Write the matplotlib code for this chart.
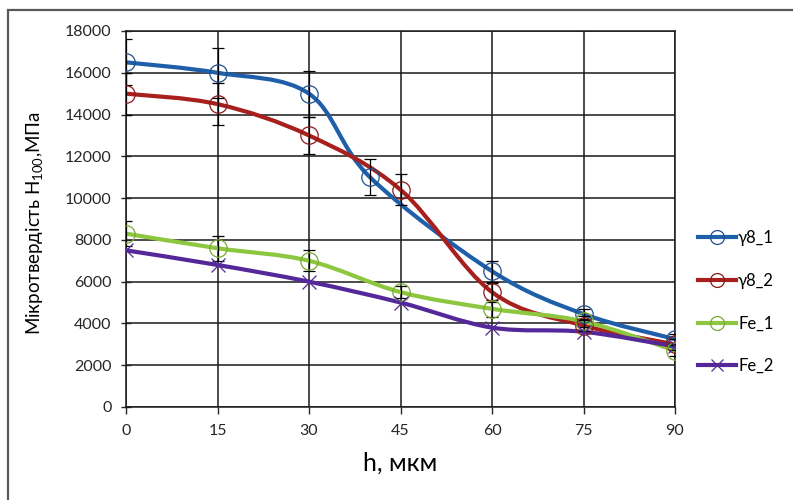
import matplotlib
matplotlib.use("Agg")
import numpy as np
import matplotlib.pyplot as plt
from matplotlib.path import Path
from matplotlib.patches import PathPatch, Rectangle
from matplotlib.lines import Line2D

plt.rcParams['font.family'] = ['Lato', 'DejaVu Sans']
plt.rcParams['mathtext.default'] = 'regular'

# дані
h_y8_1 = [0, 15, 30, 40, 60, 75, 90]
hv_y8_1 = [16500, 16000, 15000, 11000, 6500, 4450, 3250]
err_y8_1 = [1100, 1200, 1100, 850, 500, 250, 250]

h_y8_2 = [0, 15, 30, 45, 60, 75, 90]
hv_y8_2 = [15000, 14500, 13000, 10400, 5500, 3900, 3000]
err_y8_2 = [1000, 1000, 900, 750, 450, 250, 250]

h_fe_1 = [0, 15, 30, 45, 60, 75, 90]
hv_fe_1 = [8300, 7600, 7000, 5500, 4700, 4100, 2700]
err_fe_1 = [600, 600, 500, 300, 400, 250, 250]

h_fe_2 = [0, 15, 30, 45, 60, 75, 90]
hv_fe_2 = [7500, 6800, 6000, 5000, 3800, 3600, 2900]

x_ticks = [0, 15, 30, 45, 60, 75, 90]
y_ticks = list(range(0, 18001, 2000))


# згладжена лінія як в Excel (Безьє з дотичними Катмулла-Рома)
def smooth_path(x, y):
    p = np.column_stack([x, y]).astype(float)
    n = len(p)
    verts = [p[0]]
    codes = [Path.MOVETO]
    for i in range(n - 1):
        p0 = p[i - 1] if i > 0 else p[i]
        p3 = p[i + 2] if i + 2 < n else p[i + 1]
        c1 = p[i] + (p[i + 1] - p0) / 6
        c2 = p[i + 1] - (p3 - p[i]) / 6
        verts += [c1, c2, p[i + 1]]
        codes += [Path.CURVE4] * 3
    return Path(verts, codes)


fig = plt.figure(figsize=(7.93, 5.0), dpi=100)
fig.patches.append(Rectangle((8 / 793, -0.1), 1.2, 1.1 - 10 / 500,
                             transform=fig.transFigure, fill=False,
                             edgecolor='#595959', linewidth=1.6))
ax = fig.add_axes([126 / 793, 1 - 407 / 500, 549 / 793, 376 / 500])

series = [
    ("γ8_1", h_y8_1, hv_y8_1, err_y8_1, '#1F5FAA', '#1F4E8C', 'o'),
    ("γ8_2", h_y8_2, hv_y8_2, err_y8_2, '#A8201E', '#8A1A1A', 'o'),
    ("Fe_1", h_fe_1, hv_fe_1, err_fe_1, '#8DC63F', '#7AAA35', 'o'),
    ("Fe_2", h_fe_2, hv_fe_2, None, '#55289A', '#55289A', 'x'),
]

handles = []
for name, x, y, err, col, mcol, mk in series:
    ax.add_patch(PathPatch(smooth_path(x, y), facecolor='none', edgecolor=col,
                           linewidth=3.0, zorder=3, capstyle='round'))
    if err is not None:
        ax.errorbar(x, y, yerr=err, fmt='none', ecolor='black', elinewidth=0.9,
                    capsize=4, capthick=0.9, zorder=4)
    if mk == 'o':
        ax.plot(x, y, linestyle='none', marker='o', markersize=12.5,
                markerfacecolor='none', markeredgecolor=mcol,
                markeredgewidth=0.9, zorder=5)
    else:
        ax.plot(x, y, linestyle='none', marker='x', markersize=10,
                markeredgecolor=mcol, markeredgewidth=0.9, zorder=5)
    handles.append(Line2D([], [], color=col, linewidth=3.0, marker=mk,
                          markersize=10 if mk == 'o' else 9,
                          markerfacecolor='none', markeredgecolor=mcol,
                          markeredgewidth=0.9, label=name))

ax.set_xlim(0, 90)
ax.set_ylim(0, 18000)
ax.set_xticks(x_ticks)
ax.set_yticks(y_ticks)
ax.grid(True, color='#1a1a1a', linewidth=1.1, zorder=0)
ax.set_axisbelow(True)
for s in ax.spines.values():
    s.set_color('#1a1a1a')
    s.set_linewidth(1.1)
ax.tick_params(axis='both', labelsize=11.5, colors='#262626', length=5,
               width=1.0, direction='out', pad=7)
ax.tick_params(axis='y', direction='inout', length=7)

ax.set_xlabel("h, мкм", fontsize=18, labelpad=10)
ax.set_ylabel("Мікротвердість H$_{100}$,МПа", fontsize=13.5)
ax.yaxis.set_label_coords(-0.148, 0.49)

fig.legend(handles=handles, loc='center left',
           bbox_to_anchor=(683 / 793, 1 - 302 / 500), frameon=False,
           fontsize=12, handlelength=2.3, handletextpad=0.1,
           labelspacing=1.6)

fig.savefig("out.png", dpi=100)
